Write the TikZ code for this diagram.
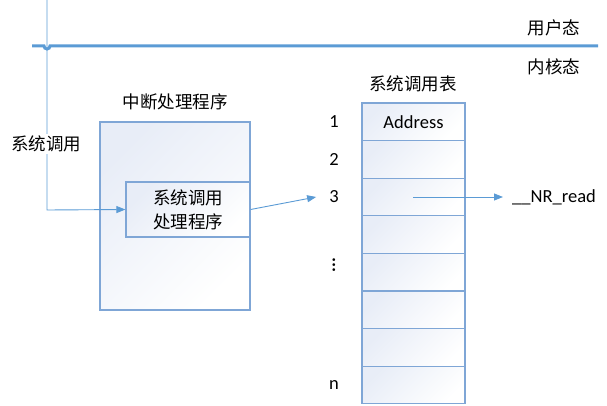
\documentclass[tikz,border=0pt]{standalone}
\usepackage{fontspec}
\setmainfont{Carlito}
\newfontfamily\cjk{Noto Sans CJK SC}
\usetikzlibrary{arrows.meta}
\definecolor{lineblue}{HTML}{5B9BD5}
\definecolor{boxblue}{HTML}{7FA6D6}
\definecolor{shadeblue}{HTML}{E8EDF7}
\begin{document}
\begin{tikzpicture}[x=1pt,y=-1pt,
  box/.style={draw=boxblue,line width=1.2pt,top color=shadeblue,bottom color=white,shading angle=45},
  conn/.style={draw=lineblue,line width=0.9pt,-{Triangle[length=9pt,width=7pt]}},
  cn/.style={font=\cjk\fontsize{17.5}{20}\selectfont,inner sep=1pt},
  lt/.style={font=\fontsize{18.5}{22}\selectfont,inner sep=1pt}]
\useasboundingbox (0,0) rectangle (607,406);
% user/kernel boundary
\draw[lineblue,line width=3pt] (32,46) -- (44,46) arc[start angle=180,end angle=0,radius=3] -- (598,46);
\node[cn] (user) at (554,28) {用户态};
\node[cn] (kernel) at (554,67) {内核态};
% interrupt handler
\node[cn] (ihtitle) at (175,102) {中断处理程序};
\node[box,minimum width=150pt,minimum height=188pt,inner sep=0pt] (ih) at (175,216) {};
\node[box,minimum width=124pt,minimum height=55pt,inner sep=0pt,align=center,font=\cjk\fontsize{17.5}{24}\selectfont] (sh) at (188,209.5) {系统调用\\处理程序};
% system call table
\node[cn] (tabtitle) at (413,84) {系统调用表};
\foreach \i in {1,...,8}{
  \node[box,minimum width=103pt,minimum height=37.6pt,inner sep=0pt] (r\i) at (413.5,{103+37.6*(\i-0.5)}) {};
}
\node[lt] at (r1) {Address};
\node[lt] (n1) at (334,122) {1};
\node[lt] (n2) at (334,159) {2};
\node[lt] (n3) at (334,197) {3};
\node[lt,font=\bfseries\fontsize{18}{20}\selectfont] (nd) at (334,265) {\rotatebox{90}{...}};
\node[lt] (nn) at (334,385) {n};
\node[lt,anchor=west] (nr) at (511,197) {\_\_NR\_read};
% connectors
\coordinate (top) at (47,0);
\coordinate (c3) at (413,197);
\draw[conn] (top) -- (47,210) -- (sh.west);
\node[cn,fill=white,inner sep=2pt] (sc) at (46,144) {系统调用};
\draw[conn] (sh.east) -- ([xshift=-12pt]n3.west);
\draw[conn] (c3) -- ([xshift=-8pt]nr.west);
\end{tikzpicture}
\end{document}
